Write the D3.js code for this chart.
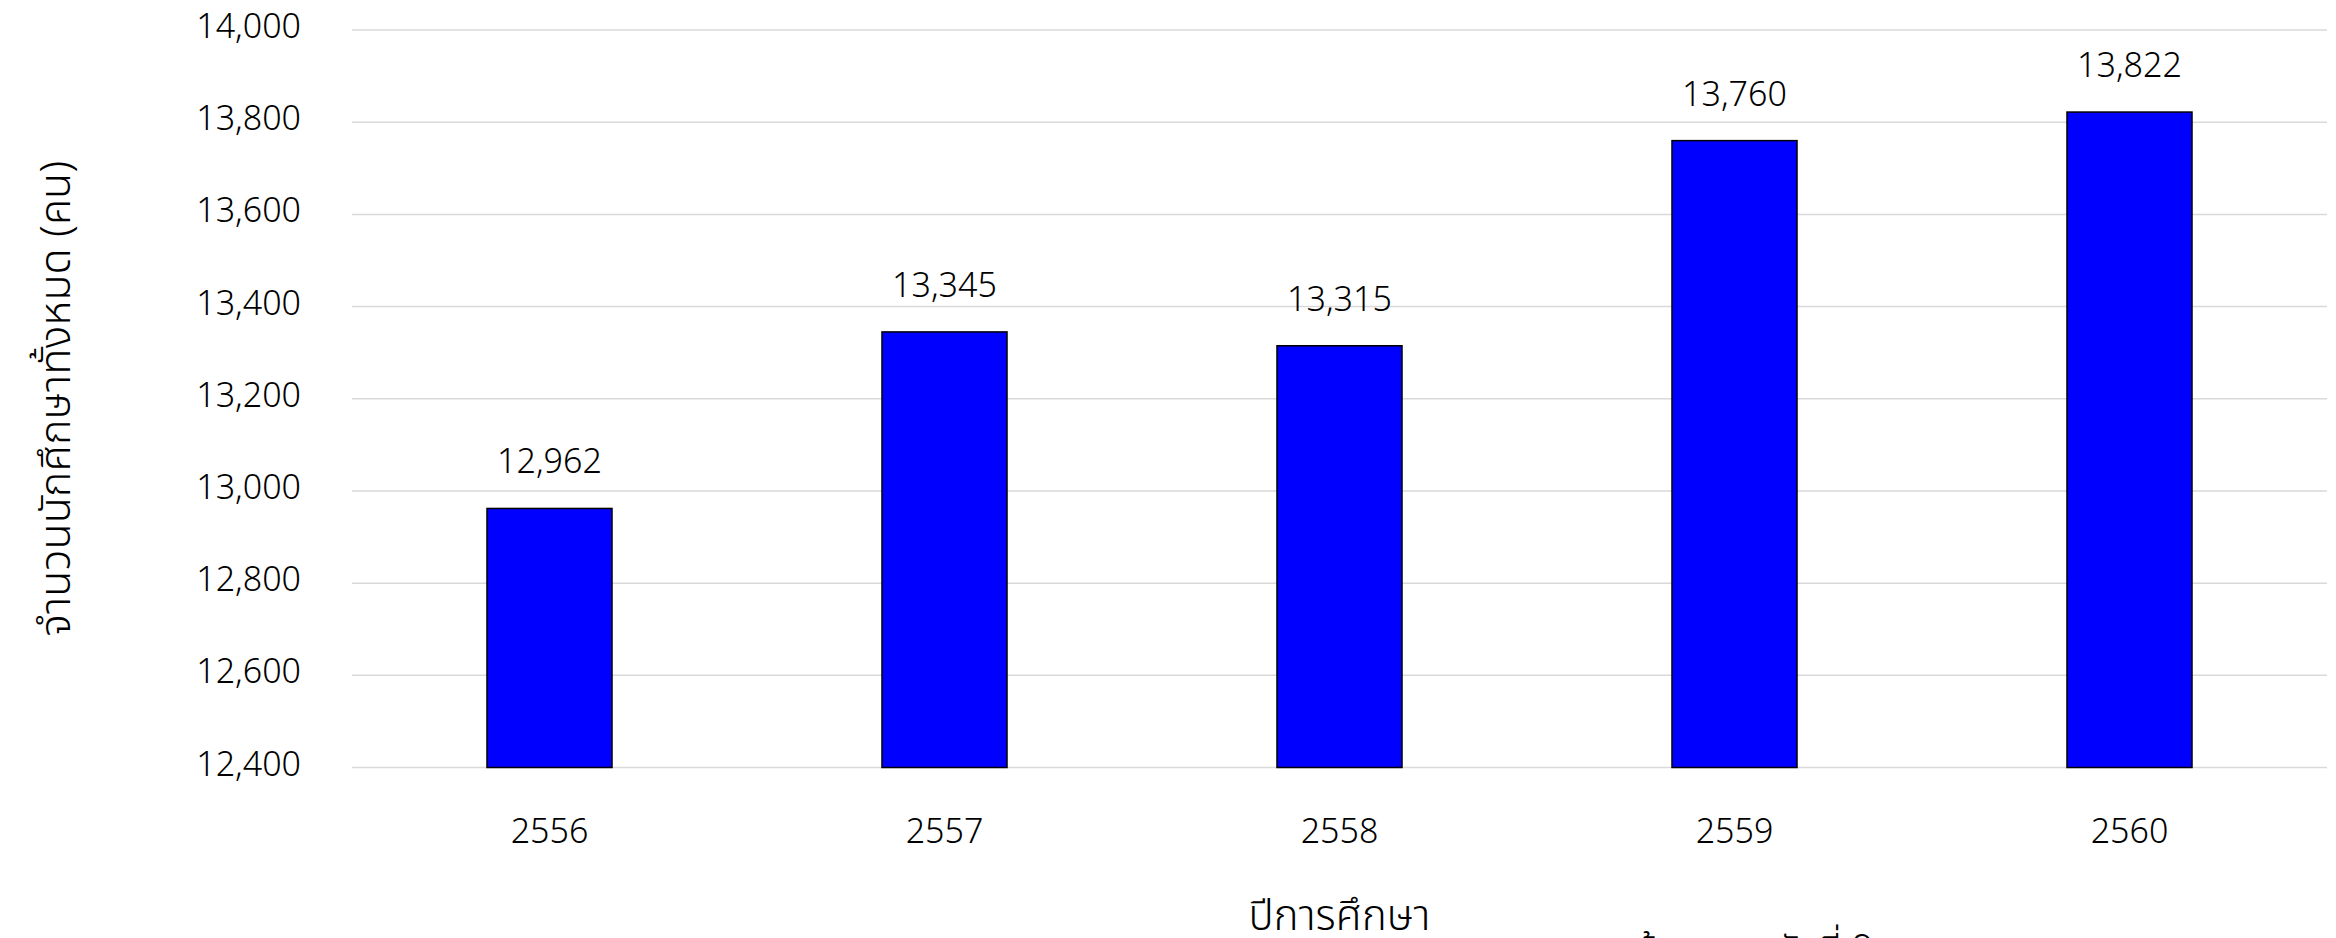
<!DOCTYPE html>
<html>
<head>
<meta charset="utf-8">
<script src="https://cdn.jsdelivr.net/npm/d3@7/dist/d3.min.js"></script>
<style>
  html, body { margin: 0; padding: 0; background: #fff; }
  svg { display: block; }
  text { font-family: "Noto Sans", "Noto Sans Thai", "Noto Sans Thai UI", sans-serif; font-weight: 300; fill: #000; }
</style>
</head>
<body>
<svg id="chart" width="2336" height="938"></svg>
<script>
const years = ["2556", "2557", "2558", "2559", "2560"];
const students = [12962, 13345, 13315, 13760, 13822];
const yTicks = [12400, 12600, 12800, 13000, 13200, 13400, 13600, 13800, 14000];
const yTitle = "จำนวนนักศึกษาทั้งหมด (คน)";
const xTitle = "ปีการศึกษา";
const noteText = "ข้อมูล ณ วันที่  9";

const W = 2336, H = 938;
const plot = { left: 352, right: 2327, top: 30, bottom: 767.5 };

const svg = d3.select("#chart");
const fmt = d3.format(",");

const x = d3.scaleBand()
  .domain(years)
  .range([plot.left, plot.right])
  .paddingInner(0.6835)
  .paddingOuter(0.6835 / 2);

const y = d3.scaleLinear()
  .domain([12400, 14000])
  .range([plot.bottom, plot.top]);

// gridlines
svg.append("g")
  .selectAll("line")
  .data(yTicks)
  .join("line")
  .attr("x1", plot.left)
  .attr("x2", plot.right)
  .attr("y1", d => y(d))
  .attr("y2", d => y(d))
  .attr("stroke", "#d9d9d9")
  .attr("stroke-width", 1.5);

// y axis labels
const yAxis = d3.axisLeft(y).tickValues(yTicks).tickFormat(fmt).tickSize(0).tickPadding(51);
const gy = svg.append("g").attr("transform", `translate(${plot.left},0)`).call(yAxis);
gy.select(".domain").remove();
gy.selectAll("text")
  .attr("dy", null)
  .attr("y", 7.5)
  .style("font-size", "34px")
  .style("font-family", '"Noto Sans", "Noto Sans Thai", sans-serif')
  .style("font-weight", 300)
  .attr("fill", "#000");

// x axis labels
const xAxis = d3.axisBottom(x).tickSize(0).tickPadding(0);
const gx = svg.append("g").attr("transform", `translate(0,${plot.bottom})`).call(xAxis);
gx.select(".domain").remove();
gx.selectAll("text")
  .attr("dy", null)
  .attr("y", 843 - plot.bottom)
  .style("font-size", "34px")
  .style("font-family", '"Noto Sans", "Noto Sans Thai", sans-serif')
  .style("font-weight", 300)
  .attr("fill", "#000");

// bars
svg.append("g")
  .selectAll("rect")
  .data(years)
  .join("rect")
  .attr("x", d => x(d))
  .attr("width", x.bandwidth())
  .attr("y", (d, i) => y(students[i]))
  .attr("height", (d, i) => y(12400) - y(students[i]))
  .attr("fill", "#0000ff")
  .attr("stroke", "#000")
  .attr("stroke-width", 1.5);

// data labels
svg.append("g")
  .selectAll("text")
  .data(years)
  .join("text")
  .attr("x", d => x(d) + x.bandwidth() / 2)
  .attr("y", (d, i) => y(students[i]) - 35)
  .attr("text-anchor", "middle")
  .style("font-size", "34px")
  .text((d, i) => fmt(students[i]));

// y title
svg.append("text")
  .attr("transform", `translate(70,${(plot.top + plot.bottom) / 2}) rotate(-90)`)
  .attr("text-anchor", "middle")
  .style("font-size", "43px")
  .text(yTitle);

// x title
svg.append("text")
  .attr("x", (plot.left + plot.right) / 2)
  .attr("y", 930)
  .attr("text-anchor", "middle")
  .style("font-size", "42px")
  .text(xTitle);

// clipped note at the bottom edge
svg.append("text")
  .attr("x", 1636)
  .attr("y", 962)
  .style("font-size", "38px")
  .text(noteText);
</script>
</body>
</html>
